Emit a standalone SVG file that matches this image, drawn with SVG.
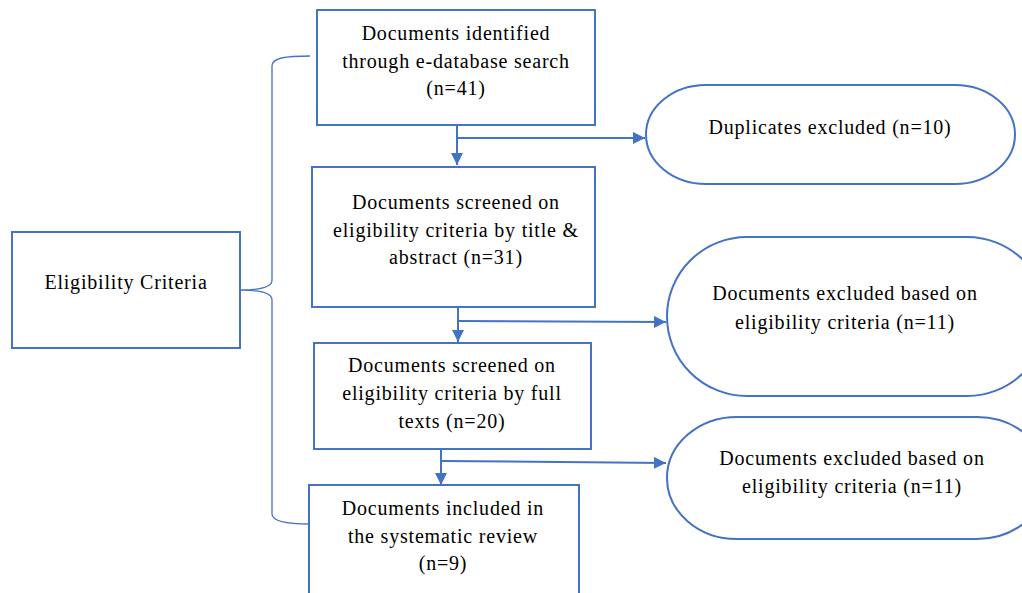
<svg xmlns="http://www.w3.org/2000/svg" width="1022" height="593" viewBox="0 0 1022 593">
<defs>
<marker id="ah" viewBox="0 0 10 10" refX="10" refY="5" markerWidth="12" markerHeight="12" markerUnits="userSpaceOnUse" orient="auto">
<path d="M0,0 L10,5 L0,10 z" fill="#4472C4"/>
</marker>
<style>
.box{fill:#fff;stroke:#4472C4;stroke-width:2}
.t{font-size:20px;letter-spacing:0.8px;fill:#000;text-anchor:middle}
.ln{fill:none;stroke:#4472C4;stroke-width:2}
.br{fill:none;stroke:#4472C4;stroke-width:1.3}
</style>
</defs>
<rect width="1022" height="593" fill="#fff"/>
<g id="connectors">
<path class="br" d="M310,56 C285,56 272,58 272,66 L272,280 C272,287 262,290 240,290 C262,290 272,293 272,300 L272,514 C272,521 285,524 310,524"/>
<path class="ln" d="M457,125 V165" marker-end="url(#ah)"/>
<path class="ln" d="M457,138 L645,138" marker-end="url(#ah)"/>
<path class="ln" d="M458,307 V342" marker-end="url(#ah)"/>
<path class="ln" d="M458,321 L666,322" marker-end="url(#ah)"/>
<path class="ln" d="M441,449 V485" marker-end="url(#ah)"/>
<path class="ln" d="M441,461 L666,463" marker-end="url(#ah)"/>
</g>
<g font-family="Liberation Serif, Times New Roman, serif">
<g id="eligibility">
<rect class="box" x="12" y="232" width="228" height="116"/>
<text class="t" x="126" y="289">Eligibility Criteria</text>
</g>
<g id="identified">
<rect class="box" x="317" y="10" width="278" height="115"/>
<text class="t" x="456" y="40">Documents identified</text>
<text class="t" x="456" y="68">through e-database search</text>
<text class="t" x="456" y="95">(n=41)</text>
</g>
<g id="screened-title">
<rect class="box" x="312" y="167" width="283" height="140"/>
<text class="t" x="456" y="209">Documents screened on</text>
<text class="t" x="456" y="237">eligibility criteria by title &amp;</text>
<text class="t" x="456" y="264">abstract (n=31)</text>
</g>
<g id="screened-full">
<rect class="box" x="314" y="343" width="277" height="106"/>
<text class="t" x="452" y="372">Documents screened on</text>
<text class="t" x="452" y="400">eligibility criteria by full</text>
<text class="t" x="452" y="428">texts (n=20)</text>
</g>
<g id="included">
<rect class="box" x="309" y="485" width="270" height="120"/>
<text class="t" x="443" y="515">Documents included in</text>
<text class="t" x="443" y="543">the systematic review</text>
<text class="t" x="443" y="570">(n=9)</text>
</g>
<g id="duplicates">
<rect class="box" x="646" y="85" width="369" height="99" rx="60" ry="49.5"/>
<text class="t" x="830" y="134">Duplicates excluded (n=10)</text>
</g>
<g id="excluded1">
<rect class="box" x="667" y="237" width="380" height="159" rx="80" ry="79.5"/>
<text class="t" x="845" y="300">Documents excluded based on</text>
<text class="t" x="845" y="329">eligibility criteria (n=11)</text>
</g>
<g id="excluded2">
<rect class="box" x="667" y="417" width="380" height="122" rx="70" ry="61"/>
<text class="t" x="852" y="465">Documents excluded based on</text>
<text class="t" x="852" y="493">eligibility criteria (n=11)</text>
</g>
</g>
</svg>
